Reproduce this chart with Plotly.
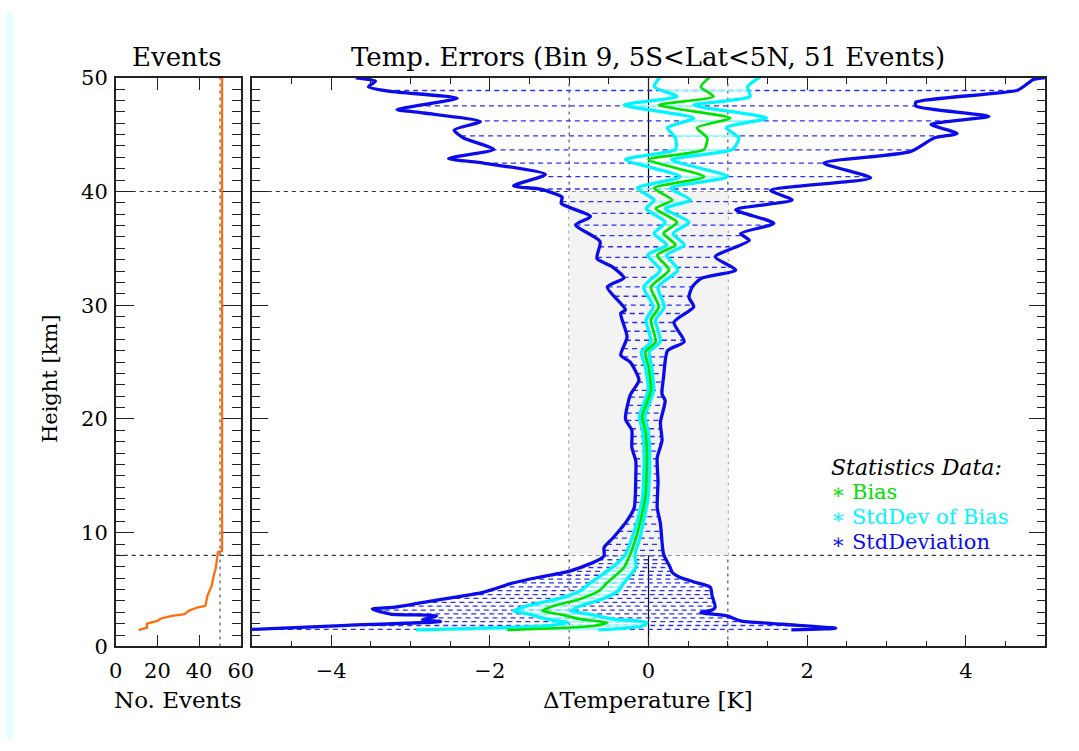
import numpy as np
import plotly.graph_objects as go

# ---------------- data ----------------
# number of occultation events reaching each height
events_km = [1.43, 1.52, 1.66, 2.01, 2.25, 2.48, 2.69, 2.84, 3.13, 3.42, 3.57,
             4.45, 4.89, 5.33, 6.21, 6.89, 8.27, 8.40, 50.0]
events_n = [11, 13, 15, 15, 20, 22, 27, 33, 35, 39, 43,
            44, 45, 46, 47, 48, 49, 51, 51]

# bias minus standard deviation (left envelope)
sd_lo_km = [1.40, 1.50, 1.85, 2.20, 2.35, 2.69, 2.85, 3.28, 3.45, 4.10, 4.74, 4.95,
            5.53, 6.06, 6.65, 7.53, 7.97, 8.70, 9.60, 11.06, 12.20, 15.00, 16.30,
            17.50, 19.00, 20.00, 22.10, 23.40, 25.00, 25.60, 27.20, 29.30, 29.60,
            31.60, 32.40, 33.40, 34.10, 35.60, 37.05, 37.80, 38.95, 39.50, 40.20,
            40.50, 41.50, 42.50, 42.90, 43.70, 44.70, 45.40, 46.15, 46.90, 47.20,
            48.20, 48.80, 49.20, 49.70, 50.00]
sd_lo_K = [-5.60, -5.00, -3.80, -2.62, -2.85, -2.67, -3.25, -3.48, -3.20, -2.65, -2.10, -1.99,
           -1.74, -1.40, -0.98, -0.65, -0.56, -0.56, -0.44, -0.27, -0.18, -0.16, -0.16,
           -0.21, -0.21, -0.29, -0.23, -0.12, -0.23, -0.35, -0.27, -0.35, -0.29,
           -0.52, -0.31, -0.46, -0.65, -0.61, -0.92, -0.73, -1.10, -1.09, -1.36,
           -1.70, -1.30, -2.08, -2.52, -1.95, -2.33, -2.45, -2.12, -2.83, -3.17,
           -2.41, -3.25, -3.53, -3.44, -3.69]

# bias plus standard deviation (right envelope)
sd_hi_km = [1.45, 1.60, 1.95, 2.25, 2.69, 2.98, 3.20, 3.45, 4.50, 5.20, 5.60, 6.06,
            6.50, 7.00, 8.10, 10.80, 12.20, 14.50, 16.60, 18.10, 19.70, 21.60, 22.20,
            23.70, 26.00, 26.80, 28.50, 29.85, 30.70, 31.60, 32.35, 33.10, 34.25,
            35.70, 36.30, 37.20, 38.40, 39.25, 40.10, 41.20, 42.50, 43.50, 44.70,
            45.10, 45.90, 46.60, 47.50, 47.85, 48.90, 49.50, 49.85, 50.05]
sd_hi_K = [1.80, 2.36, 1.70, 1.16, 0.99, 0.66, 0.80, 0.84, 0.80, 0.78, 0.61, 0.40,
           0.30, 0.27, 0.19, 0.15, 0.11, 0.12, 0.11, 0.17, 0.15, 0.21, 0.17,
           0.19, 0.24, 0.45, 0.32, 0.57, 0.51, 0.55, 0.66, 1.10, 0.84,
           1.27, 1.16, 1.58, 1.10, 1.81, 1.54, 2.80, 2.21, 3.30, 3.60,
           3.89, 3.56, 4.29, 3.37, 3.37, 4.65, 4.78, 4.85, 5.05]

# bias and its standard deviation
bias_km = [1.45, 1.80, 2.10, 2.40, 2.80, 3.13, 3.57, 4.20, 4.90, 5.60, 6.94, 8.10,
           9.50, 11.06, 13.10, 16.90, 19.00, 20.20, 22.50, 24.60, 25.90, 26.80,
           28.70, 29.85, 31.60, 33.10, 34.40, 35.30, 36.30, 37.30, 38.50, 39.25,
           40.30, 41.30, 42.80, 43.70, 44.70, 45.60, 46.45, 47.60, 48.35, 49.20, 50.10]
bias_K = [-1.78, -0.70, -0.52, -0.86, -1.10, -1.34, -1.19, -0.85, -0.62, -0.52, -0.31, -0.23,
          -0.16, -0.10, -0.04, -0.02, -0.04, -0.08, 0.03, 0.00, -0.04, 0.09,
          0.03, 0.13, 0.03, 0.26, 0.11, 0.34, 0.19, 0.36, 0.09, 0.30,
          0.07, 0.70, 0.00, 0.70, 0.74, 0.61, 1.03, 0.13, 0.82, 0.66, 0.78]
bias_sd_K = [1.15, 0.62, 0.50, 0.42, 0.38, 0.36, 0.34, 0.28, 0.24, 0.21, 0.15, 0.06,
             0.05, 0.04, 0.035, 0.035, 0.035, 0.035, 0.035, 0.04, 0.05, 0.06,
             0.06, 0.07, 0.09, 0.11, 0.12, 0.11, 0.12, 0.15, 0.12, 0.23,
             0.21, 0.30, 0.29, 0.36, 0.40, 0.37, 0.46, 0.44, 0.46, 0.59, 0.63]

# retrieval levels marked by the horizontal hatching
hatch_km = [1.50, 1.84, 2.18, 2.52, 2.86, 3.20, 3.54, 3.88, 4.22, 4.56, 4.90, 5.24,
            5.58, 5.92, 6.26, 6.60, 6.94, 7.28, 7.62, 7.96, 8.45, 8.98, 9.53, 10.11,
            10.76, 11.41, 12.00, 12.67, 13.26, 13.94, 14.58, 15.18, 15.85, 16.50,
            17.17, 17.82, 18.46, 19.14, 19.87, 20.51, 21.19, 21.92, 22.51, 23.24,
            23.98, 24.72, 25.45, 26.19, 26.92, 27.71, 28.48, 29.27, 30.00, 30.79,
            31.62, 32.44, 33.32, 34.20, 35.14, 36.11, 37.05, 38.08, 39.10, 40.22,
            41.31, 42.49, 43.66, 44.89, 46.21, 47.53, 48.88]

height_ticks = [0, 10, 20, 30, 40, 50]
temp_ticks = [-4, -2, 0, 2, 4]
event_ticks = [0, 20, 40, 60]
n_events = 51
tropo_km = 8
strato_km = 40
band_K = 1

# ---------------- page geometry ----------------
W, H = 1079, 751
# placement of the figure on the rendered page (scale and offset in pixels)
SX, OX = 0.981, 6.3
SY, OY = 0.966, 12.4


def px(X):
    """page x pixel -> paper fraction"""
    return (X - OX) / SX / W


def py(Y):
    """page y pixel -> paper fraction"""
    return 1 - (Y - OY) / SY / H


FONT = "DejaVu Serif"
BLUE = "rgb(12,12,235)"
HATCH = "rgb(45,45,255)"
GREEN = "rgb(0,225,0)"
CYAN = "rgb(0,245,255)"
ORANGE = "rgb(255,110,10)"
AX = "#222222"

fig = go.Figure()

# hatching between the +/- standard deviation envelopes
lo = np.interp(hatch_km, sd_lo_km, sd_lo_K)
hi = np.interp(hatch_km, sd_hi_km, sd_hi_K)
hx, hy = [], []
for h, a, b in zip(hatch_km, lo, hi):
    hx += [a, b, None]
    hy += [h, h, None]
fig.add_trace(go.Scatter(x=hx, y=hy, mode="lines", xaxis="x2", yaxis="y2",
                         line=dict(color=HATCH, width=1.3, dash="5px,4px"),
                         hoverinfo="skip", showlegend=False))

# hatching between bias +/- its standard deviation
b_lo = np.array(bias_K) - np.array(bias_sd_K)
b_hi = np.array(bias_K) + np.array(bias_sd_K)
clo = np.interp(hatch_km, bias_km, b_lo)
chi = np.interp(hatch_km, bias_km, b_hi)
cx, cy = [], []
for h, a, b in zip(hatch_km, clo, chi):
    cx += [a, b, None]
    cy += [h, h, None]
fig.add_trace(go.Scatter(x=cx, y=cy, mode="lines", xaxis="x2", yaxis="y2",
                         line=dict(color="rgb(150,255,255)", width=1.6),
                         hoverinfo="skip", showlegend=False))

# standard deviation envelopes
for xs, ys in ((sd_lo_K, sd_lo_km), (sd_hi_K, sd_hi_km)):
    fig.add_trace(go.Scatter(x=xs, y=ys, mode="lines", xaxis="x2", yaxis="y2",
                             line=dict(color=BLUE, width=3.3, shape="spline", smoothing=0.6),
                             showlegend=False))

# standard deviation of the bias
for xs in (b_lo, b_hi):
    fig.add_trace(go.Scatter(x=xs, y=bias_km, mode="lines", xaxis="x2", yaxis="y2",
                             line=dict(color=CYAN, width=3.3, shape="spline", smoothing=0.6),
                             showlegend=False))

# bias
fig.add_trace(go.Scatter(x=bias_K, y=bias_km, mode="lines", xaxis="x2", yaxis="y2",
                         line=dict(color=GREEN, width=2.7, shape="spline", smoothing=0.6),
                         showlegend=False))

# number of events
fig.add_trace(go.Scatter(x=events_n, y=events_km, mode="lines", xaxis="x", yaxis="y",
                         line=dict(color=ORANGE, width=2.3), showlegend=False))

# ---------------- reference lines ----------------
dash_line = dict(color="#333333", width=1.2, dash="4px,4px")
dot_line = dict(color="#555555", width=1.2, dash="3px,4px")
shapes = [
    dict(type="rect", xref="paper", yref="paper", x0=0, x1=px(12), y0=0, y1=1,
         fillcolor="#e0ffff", line=dict(width=0), layer="below"),
    dict(type="rect", xref="x2", yref="y2", x0=-band_K, x1=band_K, y0=tropo_km, y1=strato_km,
         fillcolor="#f3f3f3", line=dict(width=0), layer="below"),
]
for yv in (tropo_km, strato_km):
    shapes.append(dict(type="line", xref="x2 domain", yref="y2", x0=0, x1=1, y0=yv, y1=yv,
                       line=dash_line, layer="below"))
    shapes.append(dict(type="line", xref="x domain", yref="y", x0=0, x1=1, y0=yv, y1=yv,
                       line=dash_line, layer="below"))
for xv in (-band_K, band_K):
    shapes.append(dict(type="line", xref="x2", yref="y2 domain", x0=xv, x1=xv, y0=0, y1=1,
                       line=dot_line, layer="below"))
shapes.append(dict(type="line", xref="x2", yref="y2 domain", x0=0, x1=0, y0=0, y1=1,
                   line=dict(color="black", width=1.2), layer="below"))
shapes.append(dict(type="line", xref="x", yref="y domain", x0=n_events - 1, x1=n_events - 1,
                   y0=0, y1=1, line=dot_line, layer="below"))

# ---------------- axes ----------------
ydom = [py(645.5), py(78)]
tickfont = dict(family=FONT, size=21, color="black")
common = dict(showline=True, linecolor=AX, linewidth=1.6, mirror="ticks", ticks="inside",
              tickcolor=AX, tickwidth=1.3, showgrid=False, zeroline=False, tickfont=tickfont)

fig.update_layout(
    width=W, height=H, margin=dict(l=0, r=0, t=0, b=0),
    paper_bgcolor="white", plot_bgcolor="white",
    xaxis=dict(domain=[px(115), px(240)], range=[0, 60], tickmode="array", tickvals=event_ticks,
               ticklen=12, anchor="y", ticklabelstandoff=5, **common),
    yaxis=dict(domain=ydom, range=[0, 50], tickmode="array", tickvals=height_ticks,
               ticklen=18, anchor="x", ticklabelstandoff=2,
               minor=dict(tick0=0, dtick=1, ticklen=9, ticks="inside", tickcolor=AX, tickwidth=1.2),
               **common),
    xaxis2=dict(domain=[px(251), px(1044)], range=[-5, 5], tickmode="array", tickvals=temp_ticks,
                ticklen=12, anchor="y2", ticklabelstandoff=5,
                minor=dict(tick0=0, dtick=0.5, ticklen=6, ticks="inside", tickcolor=AX, tickwidth=1.2),
                **common),
    yaxis2=dict(domain=ydom, range=[0, 50], tickmode="array", tickvals=height_ticks,
                ticklen=16, anchor="x2", showticklabels=False,
                minor=dict(tick0=0, dtick=1, ticklen=8, ticks="inside", tickcolor=AX, tickwidth=1.2),
                **common),
    shapes=shapes,
)

# ---------------- text ----------------
def txt(s, X, Y, size=22, color="black", xanchor="center", angle=0):
    fig.add_annotation(text=s, x=px(X), y=py(Y), xref="paper", yref="paper",
                       showarrow=False, xanchor=xanchor, yanchor="middle", textangle=angle,
                       font=dict(family=FONT, size=size, color=color))

txt("Events", 176, 57, size=26)
txt("Temp. Errors (Bin 9, 5S&lt;Lat&lt;5N, 51 Events)", 647, 57, size=26)
txt("No. Events", 177, 699, size=23)
txt("ΔTemperature [K]", 647, 699, size=23)
txt("Height [km]", 50, 378, size=21, angle=-90)

txt("<i>Statistics Data:</i>", 828, 467, size=22, xanchor="left")
txt("∗ Bias", 828, 491, size=21, color=GREEN, xanchor="left")
txt("∗ StdDev of Bias", 828, 516, size=21, color=CYAN, xanchor="left")
txt("∗ StdDeviation", 828, 541, size=21, color=BLUE, xanchor="left")

fig.write_html("out.html")
